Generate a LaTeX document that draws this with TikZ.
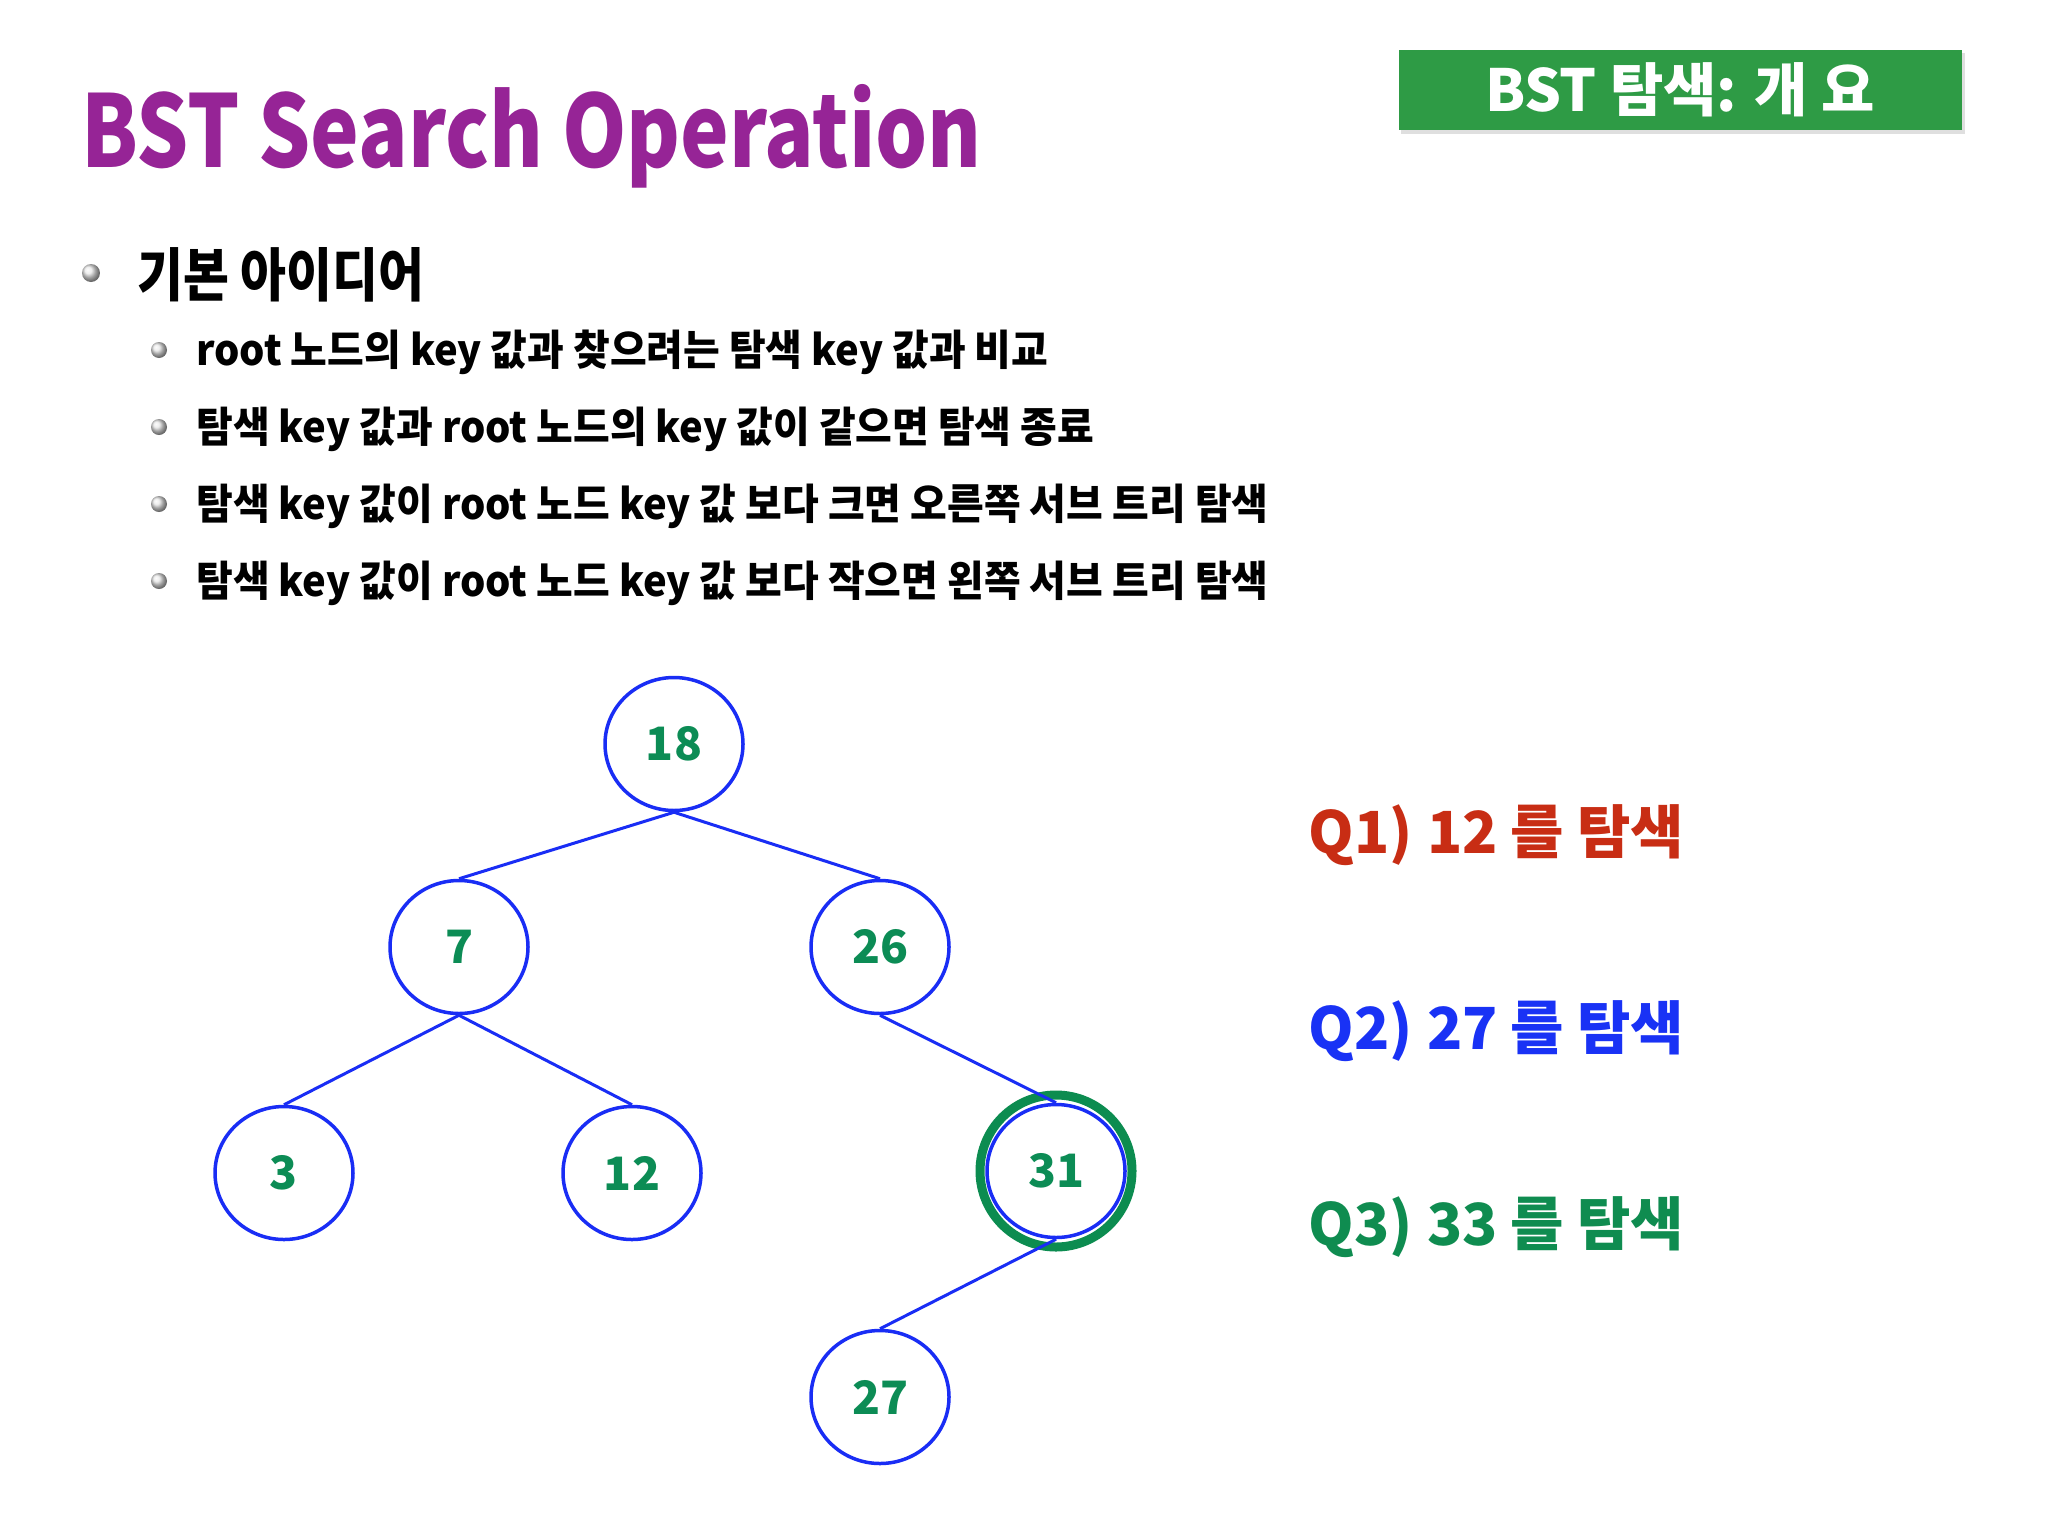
\documentclass[tikz,border=0pt]{standalone}
\usepackage{fontspec}
\usetikzlibrary{shapes.geometric}
\newfontfamily\kr{Noto Sans CJK KR}
\newfontfamily\krtitle{Noto Sans CJK KR}[FakeStretch=0.82]
\newfontfamily\krone{Noto Sans CJK KR}[FakeStretch=0.86]
\newfontfamily\krtwo{Noto Sans CJK KR}[FakeStretch=0.95]
\definecolor{titlepurple}{RGB}{150,36,150}
\definecolor{boxgreen}{RGB}{46,155,69}
\definecolor{treeblue}{RGB}{25,45,245}
\definecolor{numgreen}{RGB}{12,140,85}
\definecolor{ringgreen}{RGB}{12,140,80}
\definecolor{qred}{RGB}{200,45,20}
\definecolor{qblue}{RGB}{25,50,245}
\definecolor{qgreen}{RGB}{15,140,80}
\begin{document}
\begin{tikzpicture}[x=0.5pt,y=-0.5pt,
  tnode/.style={ellipse, draw=treeblue, line width=1.75pt, minimum width=69pt, minimum height=66.5pt, inner sep=0pt, text=numgreen, font=\kr\bfseries\fontsize{23}{23}\selectfont},
  tedge/.style={draw=treeblue, line width=1.5pt},
  txt/.style={anchor=base west, inner sep=0pt},
  lone/.style={txt, font=\krone\bfseries\fontsize{29}{29}\selectfont},
  ltwo/.style={txt, font=\krtwo\bfseries\fontsize{21}{21}\selectfont},
  qlab/.style={txt, font=\kr\bfseries\fontsize{29}{29}\selectfont},
  ballbig/.style={circle, inner sep=0pt, minimum size=9pt, shading=ball, ball color=gray!18},
  ballsmall/.style={circle, inner sep=0pt, minimum size=8pt, shading=ball, ball color=gray!18}
]
\useasboundingbox (0,0) rectangle (2048,1536);
\fill[white] (0,0) rectangle (2048,1536);

% title
\node[txt, text=titlepurple, font=\krtitle\bfseries\fontsize{50}{50}\selectfont] (title) at (81,167) {BST Search Operation};

% header box
\fill[gray!25] (1401,53) rectangle (1965,134);
\node[fill=boxgreen, minimum width=281.5pt, minimum height=40pt, inner sep=0pt, text=white, font=\kr\bfseries\fontsize{29}{29}\selectfont] (hdr) at (1680,90) {BST 탐색: 개 요};

% bullets
\node[ballbig] (b0) at (91,273) {};
\node[lone] (l0) at (137,296) {기본 아이디어};
\node[ballsmall] (b1) at (159,350) {};
\node[ltwo] (l1) at (196,365) {root 노드의 key 값과 찾으려는 탐색 key 값과 비교};
\node[ballsmall] (b2) at (159,427) {};
\node[ltwo] (l2) at (196,442) {탐색 key 값과 root 노드의 key 값이 같으면 탐색 종료};
\node[ballsmall] (b3) at (159,504) {};
\node[ltwo] (l3) at (196,519) {탐색 key 값이 root 노드 key 값 보다 크면 오른쪽 서브 트리 탐색};
\node[ballsmall] (b4) at (159,581) {};
\node[ltwo] (l4) at (196,596) {탐색 key 값이 root 노드 key 값 보다 작으면 왼쪽 서브 트리 탐색};

% tree
\node[tnode] (n18) at (674,744) {18};
\node[tnode] (n7) at (459,947) {7};
\node[tnode] (n26) at (880,947) {26};
\node[tnode] (n3) at (284,1173) {3};
\node[tnode] (n12) at (632,1173) {12};
\node[tnode] (n31) at (1056,1171) {31};
\node[tnode] (n27) at (880,1397) {27};
\node[circle, draw=ringgreen, line width=4.5pt, minimum size=76pt, inner sep=0pt] (ring) at (n31.center) {};

\draw[tedge] (n18.south) -- (n7.north);
\draw[tedge] (n18.south) -- (n26.north);
\draw[tedge] (n7.south) -- (n3.north);
\draw[tedge] (n7.south) -- (n12.north);
\draw[tedge] (n26.south) -- (n31.north);
\draw[tedge] (n31.south) -- (n27.north);

% questions
\node[qlab, text=qred] (q1) at (1308,853) {Q1)\hspace{0.25em}12 를 탐색};
\node[qlab, text=qblue] (q2) at (1308,1049) {Q2)\hspace{0.25em}27 를 탐색};
\node[qlab, text=qgreen] (q3) at (1308,1245) {Q3)\hspace{0.25em}33 를 탐색};
\end{tikzpicture}
\end{document}
